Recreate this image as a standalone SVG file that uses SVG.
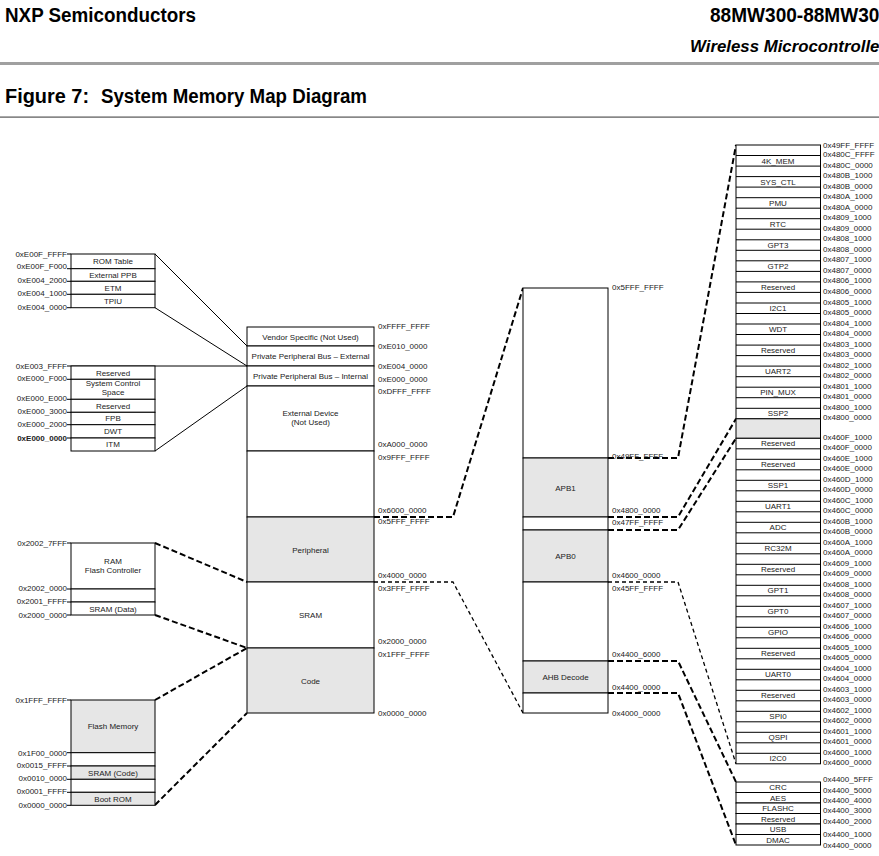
<svg xmlns="http://www.w3.org/2000/svg" width="879" height="856" viewBox="0 0 879 856">
<style>
.w{fill:#fff;stroke:#000;stroke-width:1}
.g{fill:#e6e6e6;stroke:#000;stroke-width:1}
.t{font-family:"Liberation Sans",Arial,sans-serif;font-size:8px;fill:#222}
.c{text-anchor:middle}
.e{text-anchor:end}
.h{font-family:"Liberation Sans",Arial,sans-serif;font-weight:bold;fill:#000}
.ln{stroke:#000;stroke-width:1;fill:none}
.dk{stroke:#000;stroke-width:2;stroke-dasharray:6 3;fill:none}
.dt{stroke:#000;stroke-width:1.3;stroke-dasharray:4 3;fill:none}
</style>
<rect x="0" y="0" width="879" height="856" fill="#fff"/>
<g id="header">
<text class="h" x="5" y="22" font-size="20" textLength="191" lengthAdjust="spacingAndGlyphs">NXP Semiconductors</text>
<text class="h" x="710" y="22" font-size="20" textLength="180" lengthAdjust="spacingAndGlyphs">88MW300-88MW302</text>
<text class="h" x="690" y="52" font-size="17" font-style="italic" textLength="196" lengthAdjust="spacingAndGlyphs">Wireless Microcontroller</text>
<rect x="0" y="62" width="879" height="3" fill="#a0a0a0"/>
<text class="h" x="5" y="103" font-size="20" textLength="84" lengthAdjust="spacingAndGlyphs">Figure 7:</text>
<text class="h" x="101" y="103" font-size="20" textLength="266" lengthAdjust="spacingAndGlyphs">System Memory Map Diagram</text>
<rect x="0" y="116.5" width="879" height="1.2" fill="#555"/>
</g>

<g id="connectors">
<path class="ln" d="M155,254 L247,346 M155,307.7 L247,366 M67,366 L247,366 M155,451 L247,386"/>
<path class="dk" d="M155,543 L247,582 M155,615 L247,648 M155,700 L247,648 M155,805 L247,713"/>
<path class="dk" d="M374,517 L453,517 L523,288"/>
<path class="dt" d="M374,582 L453,582 L523,713"/>
<path class="dk" d="M608,458 L678,458 L736,145"/>
<path class="dk" d="M608,517 L678,517 L736,418.8"/>
<path class="dk" d="M608,530 L678,530 L736,438.3"/>
<path class="dt" d="M608,582 L678,582 L736,763.8"/>
<path class="dk" d="M608,661 L678,661 L736,782"/>
<path class="dk" d="M608,693 L678,693 L736,845"/>
</g>

<g id="ppb-external-detail">
<path class="ln" d="M67,254 H71 M67,268.7 H71 M67,281.3 H71 M67,294.3 H71 M67,307.7 H71"/>
<g id="rom-table"><rect class="w" x="71" y="254" width="84" height="14.7"/><text class="t c" x="113" y="264">ROM Table</text></g>
<g id="external-ppb"><rect class="w" x="71" y="268.7" width="84" height="12.6"/><text class="t c" x="113" y="277.5">External PPB</text></g>
<g id="etm"><rect class="w" x="71" y="281.3" width="84" height="13"/><text class="t c" x="113" y="290.5">ETM</text></g>
<g id="tpiu"><rect class="w" x="71" y="294.3" width="84" height="13.4"/><text class="t c" x="113" y="303.5">TPIU</text></g>
<text class="t e" x="67" y="257">0xE00F_FFFF</text>
<text class="t e" x="67" y="269">0xE00F_F000</text>
<text class="t e" x="67" y="283">0xE004_2000</text>
<text class="t e" x="67" y="295.5">0xE004_1000</text>
<text class="t e" x="67" y="309.5">0xE004_0000</text>
</g>

<g id="ppb-internal-detail">
<path class="ln" d="M67,379.3 H71 M67,399.3 H71 M67,412.3 H71 M67,424.7 H71 M67,438 H71"/>
<g id="reserved-f000"><rect class="w" x="71" y="366" width="84" height="13.3"/><text class="t c" x="113" y="375.5">Reserved</text></g>
<g id="scs"><rect class="w" x="71" y="379.3" width="84" height="20"/><text class="t c" x="113" y="386">System Control</text><text class="t c" x="113" y="395">Space</text></g>
<g id="reserved-3000"><rect class="w" x="71" y="399.3" width="84" height="13"/><text class="t c" x="113" y="408.5">Reserved</text></g>
<g id="fpb"><rect class="w" x="71" y="412.3" width="84" height="12.4"/><text class="t c" x="113" y="421.3">FPB</text></g>
<g id="dwt"><rect class="w" x="71" y="424.7" width="84" height="13.3"/><text class="t c" x="113" y="434">DWT</text></g>
<g id="itm"><rect class="w" x="71" y="438" width="84" height="13"/><text class="t c" x="113" y="447.3">ITM</text></g>
<text class="t e" x="67" y="369">0xE003_FFFF</text>
<text class="t e" x="67" y="381">0xE000_F000</text>
<text class="t e" x="67" y="401">0xE000_E000</text>
<text class="t e" x="67" y="414">0xE000_3000</text>
<text class="t e" x="67" y="427">0xE000_2000</text>
<text class="t e" x="67" y="440.5" font-weight="bold">0xE000_0000</text>
</g>

<g id="sram-detail">
<path class="ln" d="M67,543 H71 M67,589 H71 M67,602 H71 M67,615 H71"/>
<g id="ram-flash-ctrl"><rect class="w" x="71" y="543" width="84" height="46"/><text class="t c" x="113" y="564">RAM</text><text class="t c" x="113" y="573">Flash Controller</text></g>
<rect class="w" x="71" y="589" width="84" height="13"/>
<g id="sram-data"><rect class="w" x="71" y="602" width="84" height="13"/><text class="t c" x="113" y="611.5">SRAM (Data)</text></g>
<text class="t e" x="67" y="546">0x2002_7FFF</text>
<text class="t e" x="67" y="591">0x2002_0000</text>
<text class="t e" x="67" y="604">0x2001_FFFF</text>
<text class="t e" x="67" y="617.5">0x2000_0000</text>
</g>

<g id="code-detail">
<path class="ln" d="M67,700 H71 M67,752.7 H71 M67,766 H71 M67,779.3 H71 M67,792.3 H71 M67,805.3 H71"/>
<g id="flash-memory"><rect class="g" x="71" y="700" width="84" height="52.7"/><text class="t c" x="113" y="729.3">Flash Memory</text></g>
<rect class="w" x="71" y="752.7" width="84" height="13.3"/>
<g id="sram-code"><rect class="g" x="71" y="766" width="84" height="13.3"/><text class="t c" x="113" y="775.5">SRAM (Code)</text></g>
<rect class="w" x="71" y="779.3" width="84" height="13"/>
<g id="boot-rom"><rect class="g" x="71" y="792.3" width="84" height="13"/><text class="t c" x="113" y="801.5">Boot ROM</text></g>
<text class="t e" x="67" y="703">0x1FFF_FFFF</text>
<text class="t e" x="67" y="755.5">0x1F00_0000</text>
<text class="t e" x="67" y="768">0x0015_FFFF</text>
<text class="t e" x="67" y="781">0x0010_0000</text>
<text class="t e" x="67" y="794">0x0001_FFFF</text>
<text class="t e" x="67" y="807.5">0x0000_0000</text>
</g>

<g id="system-map">
<g id="vendor-specific"><rect class="w" x="247" y="327" width="127" height="19"/><text class="t c" x="310.5" y="339.5">Vendor Specific (Not Used)</text></g>
<g id="ppb-external"><rect class="w" x="247" y="346" width="127" height="20"/><text class="t c" x="310.5" y="359">Private Peripheral Bus – External</text></g>
<g id="ppb-internal"><rect class="w" x="247" y="366" width="127" height="20"/><text class="t c" x="310.5" y="379">Private Peripheral Bus – Internal</text></g>
<g id="external-device"><rect class="w" x="247" y="386" width="127" height="65"/><text class="t c" x="310.5" y="416">External Device</text><text class="t c" x="310.5" y="425">(Not Used)</text></g>
<rect class="w" x="247" y="451" width="127" height="66"/>
<g id="peripheral"><rect class="g" x="247" y="517" width="127" height="65"/><text class="t c" x="310.5" y="552.5">Peripheral</text></g>
<g id="sram"><rect class="w" x="247" y="582" width="127" height="66"/><text class="t c" x="310.5" y="618">SRAM</text></g>
<g id="code"><rect class="g" x="247" y="648" width="127" height="65"/><text class="t c" x="310.5" y="683.5">Code</text></g>
<text class="t" x="378" y="329">0xFFFF_FFFF</text>
<text class="t" x="378" y="349">0xE010_0000</text>
<text class="t" x="378" y="369">0xE004_0000</text>
<text class="t" x="378" y="382">0xE000_0000</text>
<text class="t" x="378" y="394">0xDFFF_FFFF</text>
<text class="t" x="378" y="447">0xA000_0000</text>
<text class="t" x="378" y="459.5">0x9FFF_FFFF</text>
<text class="t" x="378" y="513">0x6000_0000</text>
<text class="t" x="378" y="524">0x5FFF_FFFF</text>
<text class="t" x="378" y="578">0x4000_0000</text>
<text class="t" x="378" y="591">0x3FFF_FFFF</text>
<text class="t" x="378" y="644">0x2000_0000</text>
<text class="t" x="378" y="657">0x1FFF_FFFF</text>
<text class="t" x="378" y="716">0x0000_0000</text>
</g>

<g id="peripheral-map">
<rect class="w" x="523" y="288" width="85" height="170"/>
<g id="apb1"><rect class="g" x="523" y="458" width="85" height="59"/><text class="t c" x="565.5" y="490.5">APB1</text></g>
<rect class="w" x="523" y="517" width="85" height="13"/>
<g id="apb0"><rect class="g" x="523" y="530" width="85" height="52"/><text class="t c" x="565.5" y="559">APB0</text></g>
<rect class="w" x="523" y="582" width="85" height="79"/>
<g id="ahb-decode"><rect class="g" x="523" y="661" width="85" height="32"/><text class="t c" x="565.5" y="680">AHB Decode</text></g>
<rect class="w" x="523" y="693" width="85" height="20"/>
<text class="t" x="612" y="290">0x5FFF_FFFF</text>
<text class="t" x="612" y="459">0x49FF_FFFF</text>
<text class="t" x="612" y="513">0x4800_0000</text>
<text class="t" x="612" y="525">0x47FF_FFFF</text>
<text class="t" x="612" y="578">0x4600_0000</text>
<text class="t" x="612" y="591">0x45FF_FFFF</text>
<text class="t" x="612" y="657">0x4400_6000</text>
<text class="t" x="612" y="690">0x4400_0000</text>
<text class="t" x="612" y="716">0x4000_0000</text>
</g>

<g id="apb1-map">
<rect class="w" x="736" y="145" width="84.5" height="273.8"/>
<path class="ln" d="M736,155.5H820.5M736,166.1H820.5M736,176.6H820.5M736,187.1H820.5M736,197.7H820.5M736,208.2H820.5M736,218.7H820.5M736,229.2H820.5M736,239.8H820.5M736,250.3H820.5M736,260.8H820.5M736,271.4H820.5M736,281.9H820.5M736,292.4H820.5M736,303H820.5M736,313.5H820.5M736,324H820.5M736,334.5H820.5M736,345.1H820.5M736,355.6H820.5M736,366.1H820.5M736,376.7H820.5M736,387.2H820.5M736,397.7H820.5M736,408.3H820.5"/>
<g id="mem4k"><text class="t c" x="778" y="163.6">4K_MEM</text></g>
<g id="sys-ctl"><text class="t c" x="778" y="184.7">SYS_CTL</text></g>
<g id="pmu"><text class="t c" x="778" y="205.7">PMU</text></g>
<g id="rtc"><text class="t c" x="778" y="226.8">RTC</text></g>
<g id="gpt3"><text class="t c" x="778" y="247.8">GPT3</text></g>
<g id="gtp2"><text class="t c" x="778" y="268.9">GTP2</text></g>
<g id="reserved-4806"><text class="t c" x="778" y="290">Reserved</text></g>
<g id="i2c1"><text class="t c" x="778" y="311">I2C1</text></g>
<g id="wdt"><text class="t c" x="778" y="332.1">WDT</text></g>
<g id="reserved-4803"><text class="t c" x="778" y="353.1">Reserved</text></g>
<g id="uart2"><text class="t c" x="778" y="374.2">UART2</text></g>
<g id="pin-mux"><text class="t c" x="778" y="395.3">PIN_MUX</text></g>
<g id="ssp2"><text class="t c" x="778" y="416.3">SSP2</text></g>
<text class="t" x="823" y="147.5">0x49FF_FFFF</text>
<text class="t" x="823" y="157">0x480C_FFFF</text>
<text class="t" x="823" y="167.5">0x480C_0000</text>
<text class="t" x="823" y="178">0x480B_1000</text>
<text class="t" x="823" y="188.6">0x480B_0000</text>
<text class="t" x="823" y="199.1">0x480A_1000</text>
<text class="t" x="823" y="209.7">0x480A_0000</text>
<text class="t" x="823" y="220.2">0x4809_1000</text>
<text class="t" x="823" y="230.7">0x4809_0000</text>
<text class="t" x="823" y="241.3">0x4808_1000</text>
<text class="t" x="823" y="251.8">0x4808_0000</text>
<text class="t" x="823" y="262.3">0x4807_1000</text>
<text class="t" x="823" y="272.9">0x4807_0000</text>
<text class="t" x="823" y="283.4">0x4806_1000</text>
<text class="t" x="823" y="293.9">0x4806_0000</text>
<text class="t" x="823" y="304.5">0x4805_1000</text>
<text class="t" x="823" y="315">0x4805_0000</text>
<text class="t" x="823" y="325.5">0x4804_1000</text>
<text class="t" x="823" y="336">0x4804_0000</text>
<text class="t" x="823" y="346.6">0x4803_1000</text>
<text class="t" x="823" y="357.1">0x4803_0000</text>
<text class="t" x="823" y="367.6">0x4802_1000</text>
<text class="t" x="823" y="378.2">0x4802_0000</text>
<text class="t" x="823" y="388.7">0x4801_1000</text>
<text class="t" x="823" y="399.2">0x4801_0000</text>
<text class="t" x="823" y="409.8">0x4800_1000</text>
<text class="t" x="823" y="420.3">0x4800_0000</text>
<rect class="g" x="736" y="418.8" width="84.5" height="19.5"/>
</g>

<g id="apb0-map">
<rect class="w" x="736" y="438.3" width="84.5" height="325.5"/>
<path class="ln" d="M736,448.8H820.5M736,459.3H820.5M736,469.8H820.5M736,480.3H820.5M736,490.8H820.5M736,501.3H820.5M736,511.8H820.5M736,522.3H820.5M736,532.8H820.5M736,543.3H820.5M736,553.8H820.5M736,564.3H820.5M736,574.8H820.5M736,585.3H820.5M736,595.8H820.5M736,606.3H820.5M736,616.8H820.5M736,627.3H820.5M736,637.8H820.5M736,648.3H820.5M736,658.8H820.5M736,669.3H820.5M736,679.8H820.5M736,690.3H820.5M736,700.8H820.5M736,711.3H820.5M736,721.8H820.5M736,732.3H820.5M736,742.8H820.5M736,753.3H820.5"/>
<g id="reserved-460f"><text class="t c" x="778" y="446.3">Reserved</text></g>
<g id="reserved-460e"><text class="t c" x="778" y="467.3">Reserved</text></g>
<g id="ssp1"><text class="t c" x="778" y="488.3">SSP1</text></g>
<g id="uart1"><text class="t c" x="778" y="509.3">UART1</text></g>
<g id="adc"><text class="t c" x="778" y="530.3">ADC</text></g>
<g id="rc32m"><text class="t c" x="778" y="551.3">RC32M</text></g>
<g id="reserved-4609"><text class="t c" x="778" y="572.3">Reserved</text></g>
<g id="gpt1"><text class="t c" x="778" y="593.3">GPT1</text></g>
<g id="gpt0"><text class="t c" x="778" y="614.3">GPT0</text></g>
<g id="gpio"><text class="t c" x="778" y="635.3">GPIO</text></g>
<g id="reserved-4605"><text class="t c" x="778" y="656.3">Reserved</text></g>
<g id="uart0"><text class="t c" x="778" y="677.3">UART0</text></g>
<g id="reserved-4603"><text class="t c" x="778" y="698.3">Reserved</text></g>
<g id="spi0"><text class="t c" x="778" y="719.3">SPI0</text></g>
<g id="qspi"><text class="t c" x="778" y="740.3">QSPI</text></g>
<g id="i2c0"><text class="t c" x="778" y="761.3">I2C0</text></g>
<text class="t" x="823" y="439.8">0x460F_1000</text>
<text class="t" x="823" y="450.3">0x460F_0000</text>
<text class="t" x="823" y="460.8">0x460E_1000</text>
<text class="t" x="823" y="471.3">0x460E_0000</text>
<text class="t" x="823" y="481.8">0x460D_1000</text>
<text class="t" x="823" y="492.3">0x460D_0000</text>
<text class="t" x="823" y="502.8">0x460C_1000</text>
<text class="t" x="823" y="513.3">0x460C_0000</text>
<text class="t" x="823" y="523.8">0x460B_1000</text>
<text class="t" x="823" y="534.3">0x460B_0000</text>
<text class="t" x="823" y="544.8">0x460A_1000</text>
<text class="t" x="823" y="555.3">0x460A_0000</text>
<text class="t" x="823" y="565.8">0x4609_1000</text>
<text class="t" x="823" y="576.3">0x4609_0000</text>
<text class="t" x="823" y="586.8">0x4608_1000</text>
<text class="t" x="823" y="597.3">0x4608_0000</text>
<text class="t" x="823" y="607.8">0x4607_1000</text>
<text class="t" x="823" y="618.3">0x4607_0000</text>
<text class="t" x="823" y="628.8">0x4606_1000</text>
<text class="t" x="823" y="639.3">0x4606_0000</text>
<text class="t" x="823" y="649.8">0x4605_1000</text>
<text class="t" x="823" y="660.3">0x4605_0000</text>
<text class="t" x="823" y="670.8">0x4604_1000</text>
<text class="t" x="823" y="681.3">0x4604_0000</text>
<text class="t" x="823" y="691.8">0x4603_1000</text>
<text class="t" x="823" y="702.3">0x4603_0000</text>
<text class="t" x="823" y="712.8">0x4602_1000</text>
<text class="t" x="823" y="723.3">0x4602_0000</text>
<text class="t" x="823" y="733.8">0x4601_1000</text>
<text class="t" x="823" y="744.3">0x4601_0000</text>
<text class="t" x="823" y="754.8">0x4600_1000</text>
<text class="t" x="823" y="765.3">0x4600_0000</text>
</g>

<g id="ahb-map">
<g id="crc"><rect class="w" x="736" y="782" width="84.5" height="10.5"/><text class="t c" x="778" y="790">CRC</text></g>
<g id="aes"><rect class="w" x="736" y="792.5" width="84.5" height="10.5"/><text class="t c" x="778" y="800.5">AES</text></g>
<g id="flashc"><rect class="w" x="736" y="803" width="84.5" height="10.5"/><text class="t c" x="778" y="811">FLASHC</text></g>
<g id="reserved-4400"><rect class="w" x="736" y="813.5" width="84.5" height="10.5"/><text class="t c" x="778" y="821.5">Reserved</text></g>
<g id="usb"><rect class="w" x="736" y="824" width="84.5" height="10.5"/><text class="t c" x="778" y="832">USB</text></g>
<g id="dmac"><rect class="w" x="736" y="834.5" width="84.5" height="10.5"/><text class="t c" x="778" y="842.5">DMAC</text></g>
<text class="t" x="823" y="782">0x4400_5FFF</text>
<text class="t" x="823" y="793">0x4400_5000</text>
<text class="t" x="823" y="803">0x4400_4000</text>
<text class="t" x="823" y="813">0x4400_3000</text>
<text class="t" x="823" y="824">0x4400_2000</text>
<text class="t" x="823" y="836.5">0x4400_1000</text>
<text class="t" x="823" y="848">0x4400_0000</text>
</g>
</svg>
